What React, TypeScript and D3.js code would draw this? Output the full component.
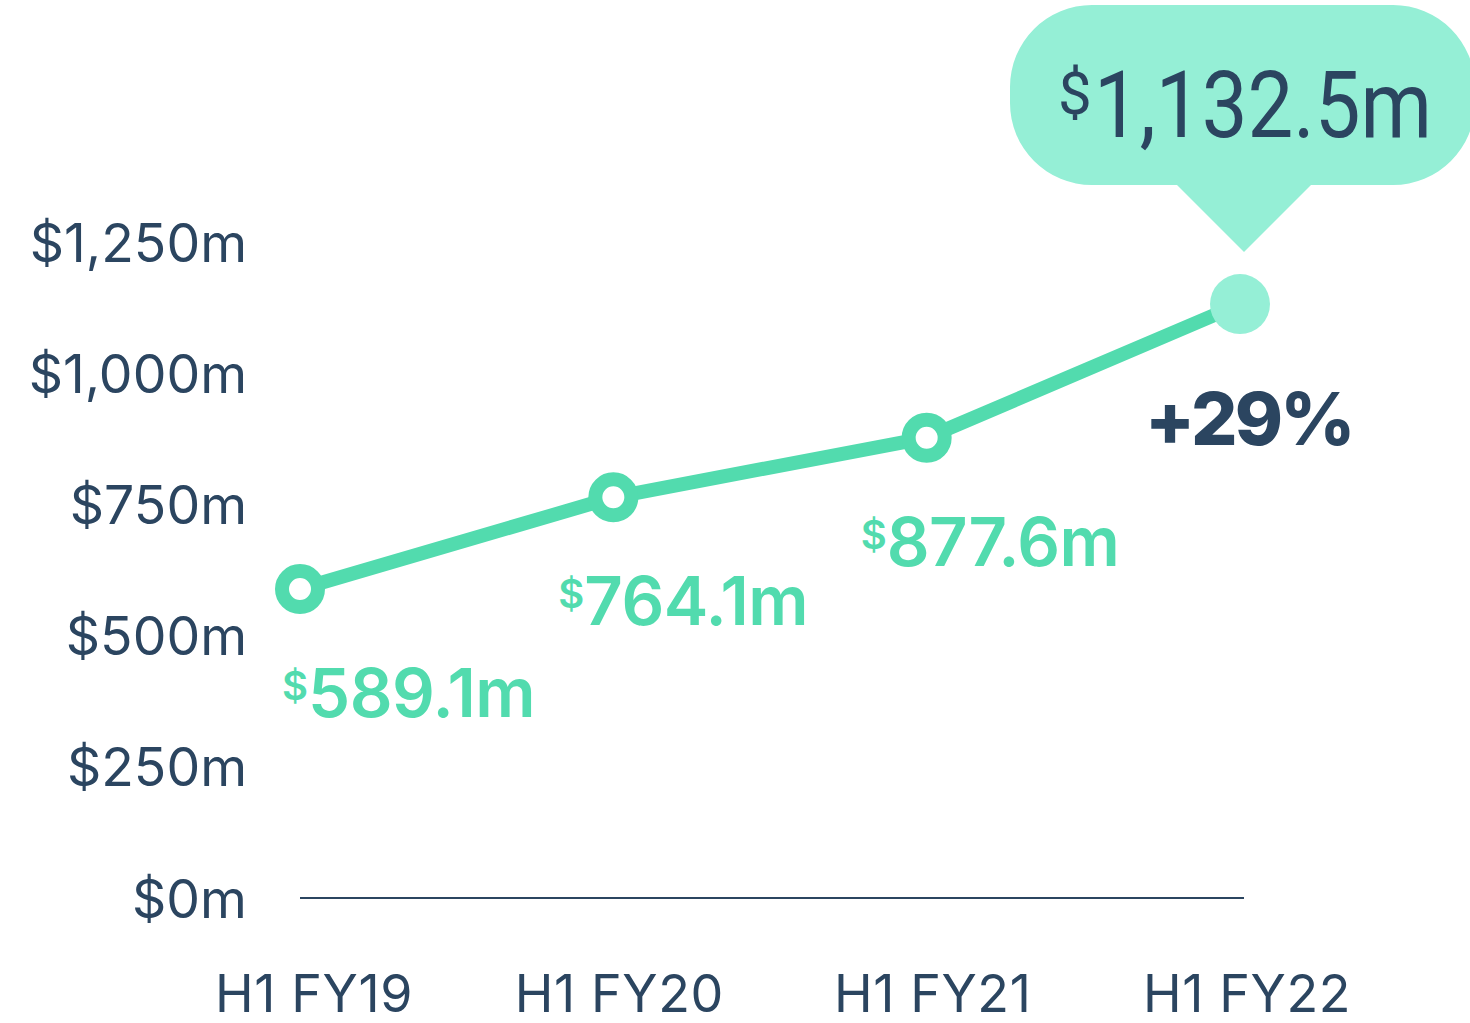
import React from "react";
import * as d3 from "d3";

const categories = ["H1 FY19", "H1 FY20", "H1 FY21", "H1 FY22"];
const revenue = [589.1, 764.1, 877.6, 1132.5];
const valueLabels = ["589.1m", "764.1m", "877.6m"];
const yTicks = [0, 250, 500, 750, 1000, 1250];
const yTickLabels = ["$0m", "$250m", "$500m", "$750m", "$1,000m", "$1,250m"];
const growthLabel = "+29%";
const calloutLabel = "1,132.5m";

// layout
const labelDx = [-18, -55, -66];
const xLabelDx = [14, 6, 6, 7];
const W = 1470;
const H = 1023;
const GREEN = "#52DBAE";
const LIGHT = "#95EFD6";
const DARK = "#2b4560";

export default function App() {
  const x = d3.scalePoint<string>().domain(categories).range([300, 1240]);
  const y = d3.scaleLinear().domain([0, 1250]).range([898, 242.5]);
  const pts = categories.map((c, i) => [x(c) as number, y(revenue[i])] as [number, number]);
  const line = d3.line()(pts) || "";
  const last = pts[pts.length - 1];

  const bx = 1010, by = 5, bw = 465, bh = 180, br = 82;
  const tipX = last[0] + 4;
  const bubble =
    `M${bx + br},${by} H${bx + bw - br} A${br},${br} 0 0 1 ${bx + bw},${by + br} V${by + bh - br} ` +
    `A${br},${br} 0 0 1 ${bx + bw - br},${by + bh} H${tipX + 67} L${tipX},${by + bh + 67} L${tipX - 67},${by + bh} ` +
    `H${bx + br} A${br},${br} 0 0 1 ${bx},${by + bh - br} V${by + br} A${br},${br} 0 0 1 ${bx + br},${by} Z`;

  return (
    <svg width={W} height={H} style={{ position: "absolute", left: 0, top: 0, background: "#fff" }}>
      {/* y axis labels */}
      {yTicks.map((t, i) => (
        <text key={t} x={247} y={y(t) + 19.5} textAnchor="end" fontFamily="Inter" fontSize={53.5} fill={DARK}>
          {yTickLabels[i]}
        </text>
      ))}
      {/* baseline */}
      <line x1={300} x2={1244} y1={y(0)} y2={y(0)} stroke={DARK} strokeWidth={2.2} />
      {/* x labels */}
      {categories.map((c, i) => (
        <text key={c} x={(x(c) as number) + xLabelDx[i]} y={1012} textAnchor="middle" fontFamily="Inter" fontSize={52} letterSpacing={0.6} fill={DARK}>
          {c}
        </text>
      ))}
      {/* line */}
      <path d={line} fill="none" stroke={GREEN} strokeWidth={14} strokeLinejoin="round" />
      {pts.slice(0, 3).map((p, i) => (
        <circle key={i} cx={p[0]} cy={p[1]} r={18} fill="#fff" stroke={GREEN} strokeWidth={14} />
      ))}
      <circle cx={last[0]} cy={last[1]} r={30} fill={LIGHT} />
      {/* value labels */}
      {valueLabels.map((l, i) => {
        const [px, py] = pts[i];
        const lx = px + labelDx[i];
        const base = py + 128;
        return (
          <g key={l}>
            <text x={lx} y={base - 17} fontFamily="Inter" fontWeight={600} fontSize={40} fill={GREEN}>$</text>
            <text x={lx + 26} y={base} fontFamily="Inter" fontWeight={600} fontSize={67} letterSpacing={-0.5} fill={GREEN}>
              {l}
            </text>
          </g>
        );
      })}
      {/* growth */}
      <text x={1145} y={445} fontFamily="Inter" fontWeight={800} fontSize={73} letterSpacing={-2.8} fill={DARK}>
        {growthLabel}
      </text>
      {/* callout */}
      <path d={bubble} fill={LIGHT} />
      <text x={1058} y={114} fontFamily="Roboto" fontSize={60} fill={DARK}>$</text>
      <text x={1094} y={137} fontFamily="Roboto" fontSize={93} fill={DARK} textLength={338} lengthAdjust="spacingAndGlyphs">
        {calloutLabel}
      </text>
    </svg>
  );
}
